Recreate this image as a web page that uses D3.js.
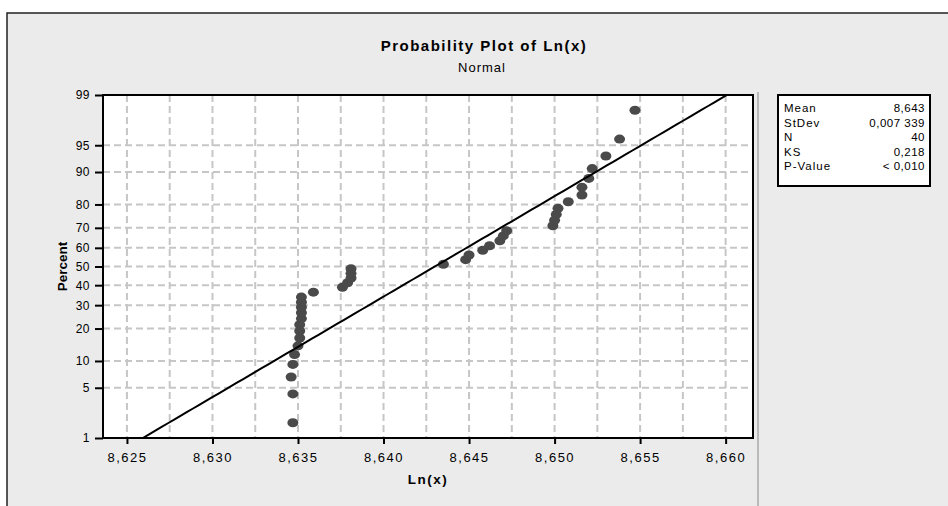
<!DOCTYPE html>
<meta charset="utf-8">
<style>
body { margin: 0; background: #fff; }
text { font-family: "Liberation Sans", Arial, sans-serif; fill: #000; }
.grid line { stroke: #c6c6c6; stroke-width: 2; stroke-dasharray: 7,4; }
</style>
<svg width="948" height="506"></svg>
<script src="https://d3js.org/d3.v7.min.js"></script>
<script>

// Ln(x) values of the 40 points, sorted
var lnX = [8.6347, 8.6347, 8.6346, 8.6347, 8.6348, 8.6350, 8.6351, 8.6351, 8.6351, 8.6352,
           8.6352, 8.6352, 8.6352, 8.6352, 8.6359, 8.6376, 8.6379, 8.6381, 8.6381, 8.6381,
           8.6435, 8.6448, 8.6450, 8.6458, 8.6462, 8.6468, 8.6470, 8.6472, 8.6499, 8.6500,
           8.6501, 8.6502, 8.6508, 8.6516, 8.6516, 8.6520, 8.6522, 8.6530, 8.6538, 8.6547];
// plotted percent of each point
var percent = [1.7, 4.2, 6.7, 9.2, 11.6, 14.1, 16.6, 19.1, 21.5, 24.0,
               26.5, 29.0, 31.4, 33.9, 36.4, 38.9, 41.3, 43.8, 46.3, 48.8,
               51.2, 53.7, 56.2, 58.7, 61.1, 63.6, 66.1, 68.6, 71.0, 73.5,
               76.0, 78.5, 81.0, 83.4, 85.9, 88.4, 90.8, 93.3, 95.8, 98.3];

var xTicks = [8.625, 8.630, 8.635, 8.640, 8.645, 8.650, 8.655, 8.660];
var xMinorGrid = [8.6275, 8.6325, 8.6375, 8.6425, 8.6475, 8.6525, 8.6575];
var yTicks = [1, 5, 10, 20, 30, 40, 50, 60, 70, 80, 90, 95, 99];

var statLabels = ["Mean", "StDev", "N", "KS", "P-Value"];
var statValues = ["8,643", "0,007 339", "40", "0,218", "< 0,010"];
var mean = 8.643, sd = 0.007339;

// inverse normal cdf (Acklam)
function probit(p) {
  var a = [-39.69683028665376, 220.9460984245205, -275.9285104469687, 138.3577518672690, -30.66479806614716, 2.506628277459239],
      b = [-54.47609879822406, 161.5858368580409, -155.6989798598866, 66.80131188771972, -13.28068155288572],
      c = [-0.007784894002430293, -0.3223964580411365, -2.400758277161838, -2.549732539343734, 4.374664141464968, 2.938163982698783],
      d = [0.007784695709041462, 0.3224671290700398, 2.445134137142996, 3.754408661907416];
  var q, r;
  if (p < 0.02425) {
    q = Math.sqrt(-2 * Math.log(p));
    return (((((c[0]*q+c[1])*q+c[2])*q+c[3])*q+c[4])*q+c[5]) / ((((d[0]*q+d[1])*q+d[2])*q+d[3])*q+1);
  } else if (p > 1 - 0.02425) {
    q = Math.sqrt(-2 * Math.log(1 - p));
    return -(((((c[0]*q+c[1])*q+c[2])*q+c[3])*q+c[4])*q+c[5]) / ((((d[0]*q+d[1])*q+d[2])*q+d[3])*q+1);
  }
  q = p - 0.5; r = q * q;
  return (((((a[0]*r+a[1])*r+a[2])*r+a[3])*r+a[4])*r+a[5])*q / (((((b[0]*r+b[1])*r+b[2])*r+b[3])*r+b[4])*r+1);
}

var svg = d3.select("svg");
var pL = 103, pR = 753, pT = 95, pB = 438;

// outer frame
svg.append("rect").attr("x", 7).attr("y", 13).attr("width", 960).attr("height", 520)
  .attr("fill", "#ebebeb").attr("stroke", "#222").attr("stroke-width", 1.5);
svg.append("line").attr("x1", 758).attr("x2", 758).attr("y1", 92).attr("y2", 506)
  .attr("stroke", "#888").attr("stroke-width", 1);

var x = d3.scaleLinear().domain([8.6236, 8.6616]).range([pL, pR]);
var zTop = probit(0.99);
var yz = d3.scaleLinear().domain([-zTop, zTop]).range([pB, pT]);
function y(p) { return yz(probit(p / 100)); }

svg.append("rect").attr("x", pL).attr("y", pT)
  .attr("width", pR - pL).attr("height", pB - pT).attr("fill", "#fff");

// grid
var grid = svg.append("g").attr("class", "grid");
grid.selectAll(".v").data(xTicks.concat(xMinorGrid)).enter().append("line")
  .attr("x1", d => x(d)).attr("x2", d => x(d)).attr("y1", pT).attr("y2", pB);
grid.selectAll(".h").data(yTicks.slice(1, -1)).enter().append("line")
  .attr("x1", pL).attr("x2", pR).attr("y1", d => y(d)).attr("y2", d => y(d));

var plot = svg.append("g");
svg.append("clipPath").attr("id", "clip").append("rect")
  .attr("x", pL).attr("y", pT).attr("width", pR - pL).attr("height", pB - pT);

// points
plot.selectAll("ellipse").data(lnX).enter().append("ellipse")
  .attr("cx", d => x(d)).attr("cy", (d, i) => y(percent[i]))
  .attr("rx", 5.5).attr("ry", 4.5).attr("fill", "#4a4a4a");

// fitted line
var zs = d3.range(-zTop - 0.1, zTop + 0.1, 0.05);
plot.append("path").attr("clip-path", "url(#clip)")
  .datum(zs)
  .attr("fill", "none").attr("stroke", "#000").attr("stroke-width", 2)
  .attr("d", d3.line().x(z => x(mean + z * sd)).y(z => yz(z)));

// frame
svg.append("rect").attr("x", pL).attr("y", pT)
  .attr("width", pR - pL).attr("height", pB - pT)
  .attr("fill", "none").attr("stroke", "#000").attr("stroke-width", 2);

// axes
var xAxis = svg.append("g").attr("transform", "translate(0," + pB + ")")
  .call(d3.axisBottom(x).tickValues(xTicks).tickSize(6).tickPadding(9)
    .tickFormat(d => d3.format(".3f")(d).replace(".", ",")));
var yAxis = svg.append("g").attr("transform", "translate(" + pL + ",0)")
  .call(d3.axisLeft(yz).tickValues(yTicks.map(p => probit(p / 100))).tickSize(8).tickPadding(5)
    .tickFormat((d, i) => yTicks[i]));
[xAxis, yAxis].forEach(function(a) {
  a.select(".domain").remove();
  a.selectAll(".tick line").attr("stroke", "#000").attr("stroke-width", 2);
  a.selectAll(".tick text").attr("fill", "#000")
    .style("font-family", "'Liberation Sans', Arial, sans-serif");
});
xAxis.selectAll(".tick text").style("font-size", "13px").style("letter-spacing", "1.5px");
yAxis.selectAll(".tick text").style("font-size", "12px").style("letter-spacing", "0.5px");

// titles
svg.append("text").attr("x", 484).attr("y", 51).attr("text-anchor", "middle")
  .style("font-size", "15px").style("font-weight", "bold").style("letter-spacing", "1.5px")
  .text("Probability Plot of Ln(x)");
svg.append("text").attr("x", 482).attr("y", 72).attr("text-anchor", "middle")
  .style("font-size", "13px").style("letter-spacing", "1px").text("Normal");
svg.append("text").attr("x", (pL + pR) / 2).attr("y", 484).attr("text-anchor", "middle")
  .style("font-size", "13.5px").style("font-weight", "bold").style("letter-spacing", "1.5px").text("Ln(x)");
svg.append("text").attr("transform", "translate(67," + ((pT + pB) / 2) + ") rotate(-90)")
  .attr("text-anchor", "middle").style("font-size", "13.5px").style("font-weight", "bold")
  .text("Percent");

// stats box
var box = svg.append("g").attr("transform", "translate(778,95)");
box.append("rect").attr("width", 152).attr("height", 91)
  .attr("fill", "#fff").attr("stroke", "#000").attr("stroke-width", 2);
box.selectAll(".lab").data(statLabels).enter().append("text")
  .attr("x", 6).attr("y", (d, i) => 17 + i * 14.5)
  .style("font-size", "11.5px").style("letter-spacing", "1px")
  .text(d => d);
box.selectAll(".val").data(statValues).enter().append("text")
  .attr("x", 147).attr("y", (d, i) => 17 + i * 14.5).attr("text-anchor", "end")
  .style("font-size", "11.5px").style("letter-spacing", "0.5px")
  .text(d => d);
</script>
